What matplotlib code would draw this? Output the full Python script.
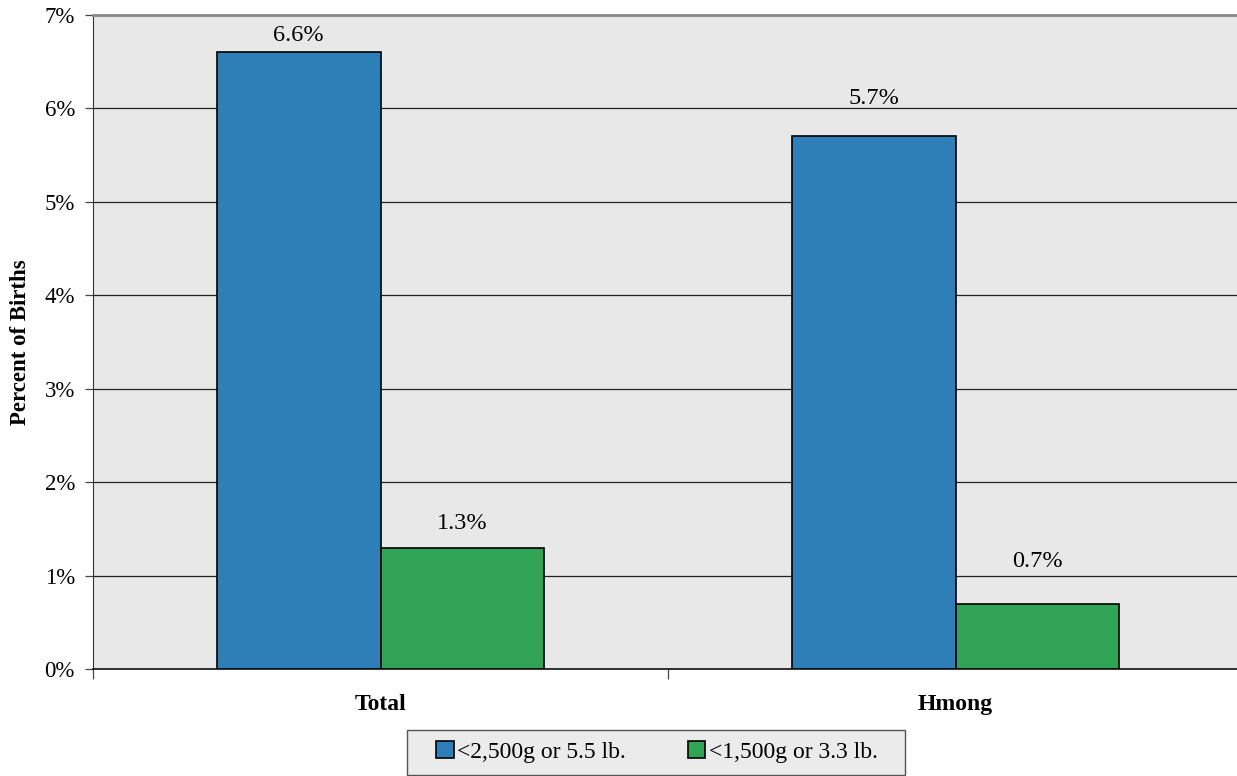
import numpy as np
import matplotlib.pyplot as plt
from matplotlib.patches import Rectangle
from matplotlib.ticker import FuncFormatter

categories = ['Total', 'Hmong']
series_names = ['<2,500g or 5.5 lb.', '<1,500g or 3.3 lb.']
low_weight = [6.6, 5.7]
very_low_weight = [1.3, 0.7]
y_ticks = [0, 1, 2, 3, 4, 5, 6, 7]

# label gap above each bar (pixels), as placed in the original
label_gap = [[17, 38], [24, 42]]

plt.rcParams['font.family'] = ['Liberation Serif', 'DejaVu Serif']

W, H = 1237, 776
fig = plt.figure(figsize=(W / 100, H / 100), dpi=100)
# plot area runs slightly past the right edge of the image
ax = fig.add_axes([93 / W, 1 - 669 / H, (1243 - 93) / W, (669 - 15) / H])
ax.set_facecolor('#e8e8e8')

x = np.arange(len(categories))
bw = 0.285
bars1 = ax.bar(x - bw / 2, low_weight, bw, color='#2e7eb8', edgecolor='black',
               linewidth=1.2, label=series_names[0], zorder=3)
bars2 = ax.bar(x + bw / 2, very_low_weight, bw, color='#31a354', edgecolor='black',
               linewidth=1.2, label=series_names[1], zorder=3)

for bars, gaps in zip((bars1, bars2), label_gap):
    for b, g in zip(bars, gaps):
        ax.annotate(f'{b.get_height():.1f}%', (b.get_x() + b.get_width() / 2, b.get_height()),
                    xytext=(0, g), textcoords='offset pixels', ha='center', va='center',
                    fontsize=17.5)

ax.set_xlim(-0.5, 1.5)
ax.set_ylim(0, 7)
ax.set_yticks(y_ticks)
ax.yaxis.set_major_formatter(FuncFormatter(lambda v, p: f'{v:.0f}%'))
ax.grid(axis='y', color='#222222', linewidth=0.9, zorder=1)
ax.set_axisbelow(True)

ax.set_xticks([-0.5, 0.5, 1.5])
ax.set_xticklabels([])
ax.set_xticks(x, minor=True)
ax.set_xticklabels(categories, minor=True, fontweight='bold', fontsize=17)
ax.tick_params(axis='x', which='minor', length=0, pad=18)
ax.tick_params(axis='x', which='major', length=7, width=0.9, color='#444444')
ax.tick_params(axis='y', length=6, width=0.9, labelsize=16.5, pad=7, color='#444444')

for s in ('top', 'right'):
    ax.spines[s].set_visible(False)
ax.spines['left'].set_color('#333333')
ax.spines['bottom'].set_color('#111111')
ax.spines['bottom'].set_linewidth(1.2)
ax.axhline(7, color='#888888', linewidth=2, zorder=4, clip_on=False)

ax.set_ylabel('Percent of Births', fontweight='bold', fontsize=16.5, labelpad=10)

# legend box drawn separately so its padding matches the original
fig.patches.append(Rectangle((407 / W, 1 - 775 / H), (905 - 407) / W, (775 - 730) / H,
                             transform=fig.transFigure, facecolor='#ebebeb',
                             edgecolor='#555555', linewidth=1.0))
fig.legend(loc='center', bbox_to_anchor=(657 / W, 1 - 752 / H), ncol=2,
           fontsize=17, frameon=False, handlelength=0.75, handleheight=0.75,
           handletextpad=0.15, columnspacing=2.6)

fig.savefig('out.png', dpi=100)
